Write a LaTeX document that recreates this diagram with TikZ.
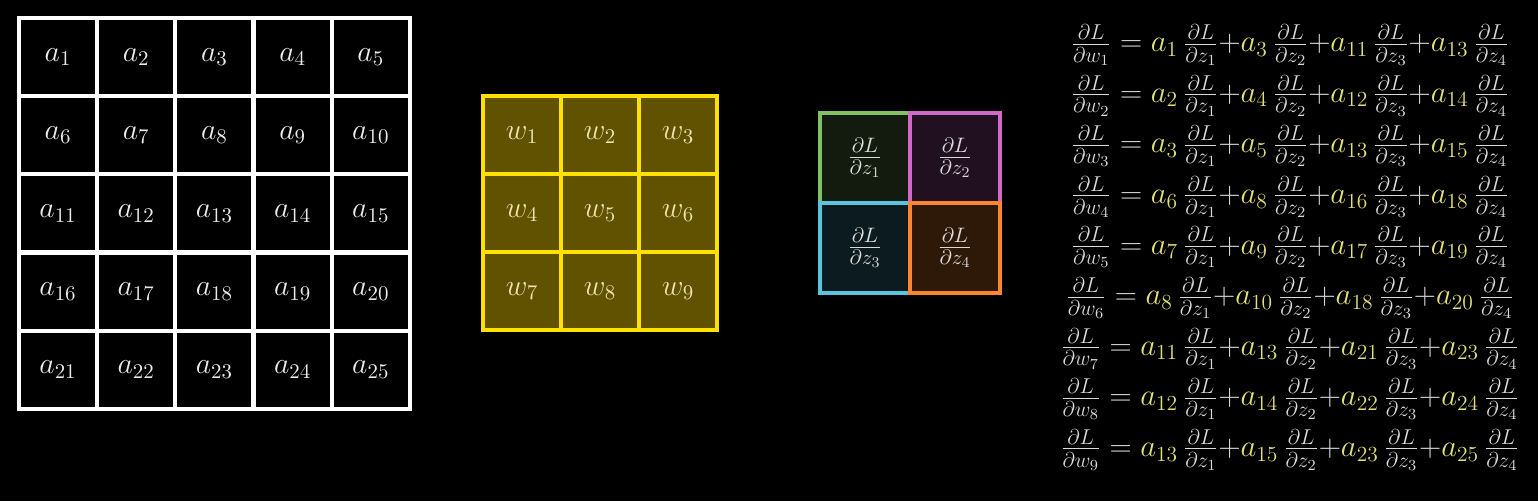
\documentclass[tikz,border=0pt]{standalone}
\usepackage{fix-cm}
\usepackage{tikz}

\definecolor{bgBlack}{RGB}{0,0,0}
\definecolor{aYellow}{RGB}{228,224,120}
\definecolor{eqGray}{RGB}{218,218,218}
\definecolor{wYellow}{RGB}{255,226,0}
\definecolor{wFill}{RGB}{96,82,0}
\definecolor{wText}{RGB}{238,228,175}
\definecolor{zGreen}{RGB}{131,193,103}
\definecolor{zPink}{RGB}{209,105,200}
\definecolor{zBlue}{RGB}{88,196,221}
\definecolor{zOrange}{RGB}{255,134,47}

\newcommand{\acol}[1]{\textcolor{aYellow}{a_{#1}}}
\newcommand{\dLdz}[1]{\frac{\partial L}{\partial z_{#1}}}

\tikzset{
  acell/.style={draw=white,line width=0.08cm,fill=black,text=white!92!black,
    minimum size=1.56cm,inner sep=0pt,font=\fontsize{17}{20}\selectfont},
  wcell/.style={draw=wYellow,line width=0.08cm,fill=wFill,text=wText,
    minimum size=1.56cm,inner sep=0pt,font=\fontsize{17}{20}\selectfont},
  zcell/.style={line width=0.08cm,minimum size=1.8cm,inner sep=0pt,
    text=eqGray,font=\fontsize{17}{20}\selectfont},
  eqn/.style={text=eqGray,inner sep=0pt,font=\fontsize{17.5}{21}\selectfont},
}

\begin{document}
\begin{tikzpicture}[x=0.02cm,y=-0.02cm]
      % 背景
      \fill[bgBlack] (0,0) rectangle (1538,501);
      \useasboundingbox (0,0) rectangle (1538,501);

      % 入力 a（5x5）
      \foreach \row in {0,...,4}{
        \foreach \col in {0,...,4}{
          \pgfmathtruncatemacro\aidx{5*\row+\col+1}
          \node[acell] (a\aidx) at ({58+78.2*\col},{57+78.2*\row}) {$a_{\aidx}$};
        }
      }

      % 重み w（3x3）
      \foreach \row in {0,...,2}{
        \foreach \col in {0,...,2}{
          \pgfmathtruncatemacro\widx{3*\row+\col+1}
          \node[wcell] (w\widx) at ({522+78*\col},{135+78*\row}) {$w_{\widx}$};
        }
      }

      % 出力側の勾配 dL/dz（2x2）
      \node[zcell,draw=zGreen,fill=zGreen!14!black] (z1) at (865,158)
        {$\dLdz{1}$};
      \node[zcell,draw=zPink,fill=zPink!16!black] (z2) at (955,158)
        {$\dLdz{2}$};
      \node[zcell,draw=zBlue,fill=zBlue!14!black] (z3) at (865,248)
        {$\dLdz{3}$};
      \node[zcell,draw=zOrange,fill=zOrange!18!black] (z4) at (955,248)
        {$\dLdz{4}$};

      % 各重みの勾配
      \foreach \i in {1,...,9}{
        \pgfmathtruncatemacro\wrow{int((\i-1)/3)}
        \pgfmathtruncatemacro\wcol{mod(\i-1,3)}
        \pgfmathtruncatemacro\ka{5*\wrow+\wcol+1}
        \pgfmathtruncatemacro\kb{\ka+2}
        \pgfmathtruncatemacro\kc{\ka+10}
        \pgfmathtruncatemacro\kd{\ka+12}
        \node[eqn] (eq\i) at (1290,{45+50.6*(\i-1)}) {$%
          \frac{\partial L}{\partial w_{\i}} = \acol{\ka}\,\dLdz{1}{+}\acol{\kb}\,\dLdz{2}{+}\acol{\kc}\,\dLdz{3}{+}\acol{\kd}\,\dLdz{4}$};
      }
    \end{tikzpicture}
\end{document}
